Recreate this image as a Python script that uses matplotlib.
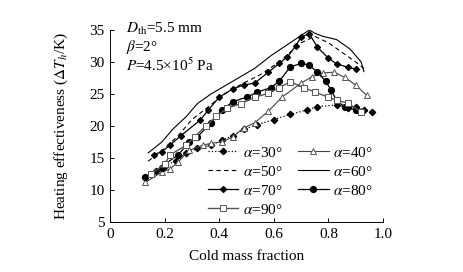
import matplotlib
matplotlib.use('Agg')
import matplotlib.pyplot as plt

plt.rcParams['font.family'] = ['Liberation Serif', 'DejaVu Serif']
plt.rcParams['mathtext.fontset'] = 'stix'

# cold mass fraction / heating effectiveness for each nozzle angle
x30 = [0.17, 0.20, 0.24, 0.28, 0.32, 0.37, 0.41, 0.45, 0.49, 0.54, 0.60, 0.66, 0.72, 0.76, 0.83, 0.87, 0.90, 0.93, 0.96]
y30 = [13.0, 13.8, 14.5, 15.8, 16.5, 17.0, 17.8, 18.5, 19.5, 20.2, 21.0, 21.8, 22.5, 23.0, 23.3, 22.8, 23.0, 22.5, 22.2]

x40 = [0.13, 0.19, 0.22, 0.25, 0.29, 0.34, 0.37, 0.41, 0.45, 0.49, 0.53, 0.58, 0.63, 0.70, 0.74, 0.78, 0.82, 0.86, 0.90, 0.94]
y40 = [11.2, 12.8, 13.3, 14.4, 16.2, 17.0, 17.3, 17.5, 18.3, 19.7, 20.5, 22.3, 24.5, 26.7, 27.7, 28.3, 28.4, 27.6, 26.4, 24.8]

x50 = [0.14, 0.20, 0.25, 0.30, 0.36, 0.42, 0.48, 0.55, 0.62, 0.70, 0.75, 0.80, 0.85, 0.90, 0.93]
y50 = [14.5, 16.5, 18.5, 21.0, 23.0, 25.0, 26.5, 28.0, 30.0, 33.0, 34.0, 33.0, 31.5, 30.0, 29.0]

x60 = [0.14, 0.19, 0.23, 0.28, 0.32, 0.37, 0.41, 0.47, 0.53, 0.59, 0.66, 0.73, 0.75, 0.78, 0.83, 0.88, 0.92, 0.93]
y60 = [15.8, 17.5, 19.5, 21.5, 23.5, 25.0, 26.0, 27.5, 29.0, 31.0, 33.0, 35.0, 34.5, 34.0, 33.5, 32.0, 30.0, 28.5]

x70 = [0.16, 0.19, 0.22, 0.26, 0.33, 0.36, 0.40, 0.45, 0.49, 0.53, 0.58, 0.62, 0.65, 0.68, 0.70, 0.73, 0.76, 0.80, 0.83, 0.87, 0.90]
y70 = [15.5, 16.0, 17.0, 18.5, 20.9, 22.5, 24.5, 25.8, 26.4, 26.7, 28.4, 29.8, 30.8, 32.5, 33.9, 34.4, 32.3, 30.6, 29.7, 29.2, 28.9]

x80 = [0.13, 0.19, 0.20, 0.25, 0.29, 0.32, 0.37, 0.41, 0.45, 0.50, 0.54, 0.59, 0.62, 0.66, 0.70, 0.73, 0.76, 0.79, 0.81, 0.83, 0.86, 0.90]
y80 = [12.0, 13.5, 14.0, 15.5, 17.5, 18.3, 20.5, 22.5, 23.8, 24.5, 25.3, 26.0, 27.0, 29.2, 29.8, 29.5, 28.4, 27.0, 25.6, 24.0, 23.0, 22.5]

x90 = [0.15, 0.20, 0.22, 0.28, 0.31, 0.35, 0.39, 0.43, 0.48, 0.53, 0.58, 0.62, 0.66, 0.71, 0.75, 0.80, 0.83, 0.87, 0.92]
y90 = [12.5, 14.0, 15.5, 17.0, 18.3, 20.0, 21.5, 22.8, 23.5, 24.5, 25.1, 26.0, 26.9, 26.0, 25.3, 24.5, 24.0, 23.6, 22.2]

xticks = [0, 0.2, 0.4, 0.6, 0.8, 1.0]
xticklabels = ['0', '0.2', '0.4', '0.6', '0.8', '1.0']
yticks = [5, 10, 15, 20, 25, 30, 35]

fig = plt.figure(figsize=(4.63, 2.72), dpi=100)
ax = fig.add_axes([0.2376, 0.1838, 0.5896, 0.706])

l30, = ax.plot(x30, y30, linestyle=':', color='black', linewidth=0.9, marker='D', markersize=3.2,
               markerfacecolor='black', label=r'$\alpha$=30°')
l40, = ax.plot(x40, y40, linestyle='-', color='#444444', linewidth=0.8, marker='^', markersize=5,
               markerfacecolor='white', markeredgecolor='#555555', markeredgewidth=0.7, label=r'$\alpha$=40°')
l50, = ax.plot(x50, y50, linestyle=(0, (4, 3)), color='black', linewidth=0.8, label=r'$\alpha$=50°')
l60, = ax.plot(x60, y60, linestyle='-', color='black', linewidth=0.8, label=r'$\alpha$=60°')
l70, = ax.plot(x70, y70, linestyle='-', color='black', linewidth=0.9, marker='D', markersize=3,
               label=r'$\alpha$=70°')
l80, = ax.plot(x80, y80, linestyle='-', color='black', linewidth=0.9, marker='o', markersize=4.2,
               label=r'$\alpha$=80°')
l90, = ax.plot(x90, y90, linestyle='-', color='#555555', linewidth=1.0, marker='s', markersize=4.5,
               markerfacecolor='white', markeredgecolor='#555555', markeredgewidth=0.7, label=r'$\alpha$=90°')

ax.set_xlim(0, 1.0)
ax.set_ylim(5, 35)
ax.set_xticks(xticks)
ax.set_xticklabels(xticklabels)
ax.set_yticks(yticks)
ax.tick_params(direction='in', length=3, width=0.7, labelsize=11, pad=4)
ax.spines['top'].set_visible(False)
ax.spines['right'].set_visible(False)
ax.spines['left'].set_linewidth(0.7)
ax.spines['bottom'].set_linewidth(0.7)

ax.set_xlabel('Cold mass fraction', fontsize=11, labelpad=7)
ax.set_ylabel(r'Heating effectiveness ($\Delta T_h$/K)', fontsize=11, labelpad=14)

ax.text(0.06, 1.005, r'$D_{\mathrm{th}}$=5.5 mm', transform=ax.transAxes, fontsize=11, va='center')
ax.text(0.06, 0.91, r'$\beta$=2°', transform=ax.transAxes, fontsize=11, va='center')
ax.text(0.06, 0.815, r'$P$=4.5×10$^5$ Pa', transform=ax.transAxes, fontsize=11, va='center')

# reorder so the two-column legend reads row by row
handles = [l30, l50, l70, l90, l40, l60, l80]
ax.legend(handles=handles, labels=[h.get_label() for h in handles], ncol=2, loc='upper left',
          bbox_to_anchor=(0.325, 0.445), frameon=False, fontsize=11,
          handlelength=2.0, handletextpad=0.3, columnspacing=1.0, labelspacing=0.33,
          borderpad=0.1)

plt.savefig('out.png', dpi=100)
